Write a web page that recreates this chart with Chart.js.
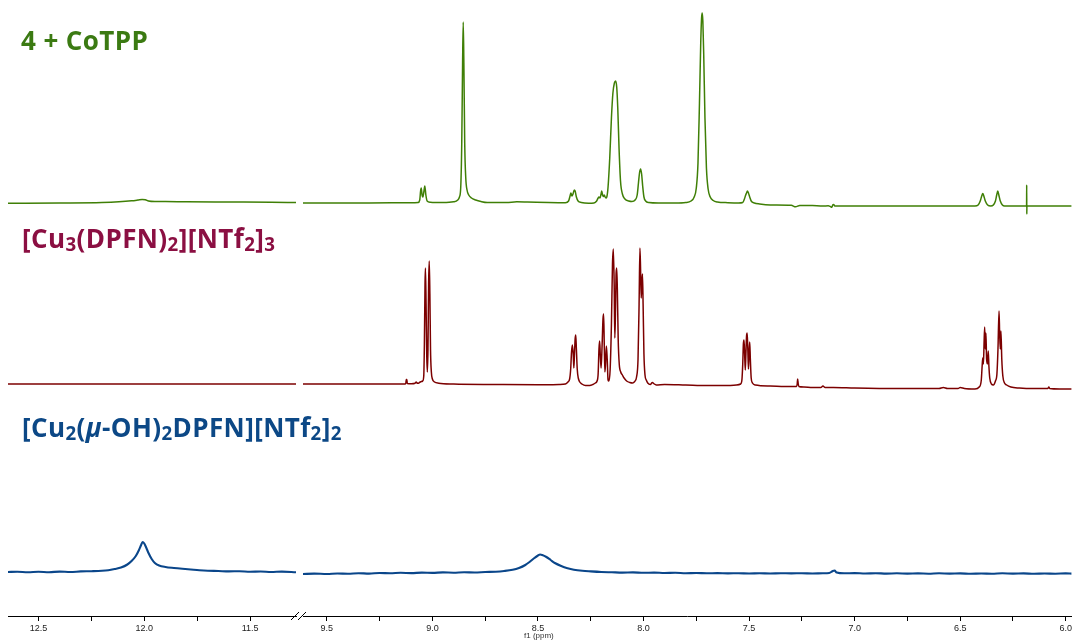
<!DOCTYPE html>
<html>
<head>
<meta charset="utf-8">
<script src="https://cdn.jsdelivr.net/npm/chart.js@4"></script>
<style>
  html, body { margin: 0; padding: 0; background: #fff; overflow: hidden; }
  #page { position: relative; width: 1074px; height: 642px; }
  .panel { position: absolute; top: 0; }
  .label {
    position: absolute; font-family: "Open Sans", sans-serif; font-weight: 700;
    font-size: 26px; line-height: 26px; letter-spacing: 0.4px; white-space: nowrap;
  }
  .label sub { font-size: 0.72em; vertical-align: -0.16em; line-height: 0; }
  #xtitle { position: absolute; left: 524px; top: 631px; font: 8px "Liberation Sans", Arial, sans-serif; color: #333; }
</style>
</head>
<body>
<div id="page">
  <div class="panel" style="left:0px"><canvas id="leftPanel" width="300" height="642"></canvas></div>
  <div class="panel" style="left:290px"><canvas id="rightPanel" width="784" height="642"></canvas></div>
  <div class="label" style="left:21px; top:27px; color:#3b7a12;">4 + CoTPP</div>
  <div class="label" style="left:22px; top:225px; color:#8b0f42;">[Cu<sub>3</sub>(DPFN)<sub>2</sub>][NTf<sub>2</sub>]<sub>3</sub></div>
  <div class="label" style="left:22px; top:414px; color:#0c4886;">[Cu<sub>2</sub>(<i>μ</i>-OH)<sub>2</sub>DPFN][NTf<sub>2</sub>]<sub>2</sub></div>
  <div id="xtitle">f1 (ppm)</div>
</div>
<script>
// --- DATA (ppm, intensity above each trace's baseline) ---
const leftMajor = [12.5, 12.0, 11.5];
const leftMinor = [12.25, 11.75];
const rightMajor = [9.5, 9.0, 8.5, 8.0, 7.5, 7.0, 6.5, 6.0];
const rightMinor = [9.25, 8.75, 8.25, 7.75, 7.25, 6.75, 6.25];

const cotppLeft = [[12.644,-0.3],[12.40,0],[12.20,0.5],[12.12,1.2],[12.06,2.2],[12.03,3],[12.01,3.6],[11.995,3.2],
  [11.98,2],[11.95,1.5],[11.90,1.5],[11.80,1.2],[11.60,1],[11.40,0.8],[11.283,0.5]];

const cotppRight = [[9.613,0],[9.30,0],[9.10,0.3],[9.068,0.5],[9.060,3],[9.056,12],[9.053,15],[9.049,8],[9.045,6],
  [9.040,12],[9.036,17],[9.031,8],[9.025,2],[9.01,0.8],[8.95,0.5],[8.90,1.2],[8.88,3],[8.872,6],[8.866,15],
  [8.861,60],[8.857,140],[8.854,181],[8.851,140],[8.847,60],[8.842,25],[8.836,13],[8.828,8],[8.815,5],[8.795,3],
  [8.77,1.5],[8.74,0.5],[8.65,0.5],[8.60,1.2],[8.55,1],[8.45,0.5],[8.37,0.3],[8.355,2],[8.348,7],[8.344,10],
  [8.339,7],[8.334,9],[8.328,13],[8.324,12],[8.318,6],[8.310,2],[8.295,0.5],[8.26,-0.3],[8.235,0],[8.222,2],
  [8.215,5],[8.211,6],[8.206,5],[8.201,9],[8.198,12],[8.194,8],[8.190,6.5],[8.186,8],[8.182,6],[8.178,5],
  [8.174,6],[8.168,16],[8.160,45],[8.152,85],[8.145,110],[8.138,120],[8.132,122],[8.127,116],[8.122,95],
  [8.116,55],[8.109,22],[8.100,9],[8.088,4],[8.07,2],[8.055,1.5],[8.040,3],[8.030,8],[8.024,20],[8.019,30],
  [8.014,34],[8.009,29],[8.004,17],[7.998,6],[7.99,2],[7.975,0.5],[7.93,0],[7.85,0],[7.80,0.5],[7.775,2],
  [7.760,6],[7.750,15],[7.742,40],[7.735,100],[7.729,160],[7.725,185],[7.722,190],[7.719,182],[7.715,150],
  [7.709,85],[7.702,35],[7.694,14],[7.684,6],[7.670,2.5],[7.650,1],[7.60,0.3],[7.55,0],[7.53,0.5],[7.522,4],
  [7.516,8],[7.512,10],[7.508,12],[7.503,10],[7.497,6],[7.490,2],[7.475,0],[7.45,-1],[7.40,-2],[7.30,-2.3],
  [7.28,-3.8],[7.26,-2.5],[7.20,-2.6],[7.15,-3],[7.125,-2.8],[7.115,-3.5],[7.108,-4.3],[7.103,-1.8],[7.099,-1.5],
  [7.094,-3],[7.08,-3],[6.90,-3],[6.70,-3],[6.50,-3],[6.43,-3],[6.415,-2],[6.405,2],[6.398,7],[6.393,9.5],
  [6.388,7],[6.381,2],[6.370,-2],[6.355,-3],[6.343,-2],[6.333,2],[6.327,8],[6.322,12],[6.317,8],[6.310,2],
  [6.300,-2],[6.29,-3],[6.20,-3],[6.1855,-3],[6.1850,18],[6.1845,-11],[6.1840,-3],[6.10,-3],[5.972,-3]];

const cu3Left = [[12.644,0],[12.0,0],[11.283,0]];

const cu3Right = [[9.613,0],[9.40,0],[9.20,0],[9.13,0],[9.126,0.5],[9.124,4.5],[9.121,4.5],[9.119,0.5],[9.10,0.3],
  [9.082,0.8],[9.077,2],[9.073,1],[9.066,0.8],[9.058,2],[9.052,2.5],[9.046,3],[9.041,8],[9.038,40],[9.035,100],
  [9.033,116],[9.030,80],[9.027,30],[9.024,12],[9.021,35],[9.018,100],[9.015,123],[9.012,90],[9.009,35],
  [9.005,12],[9.000,5],[8.99,2],[8.97,0.8],[8.90,0],[8.70,-0.5],[8.50,-0.8],[8.40,-0.5],[8.37,0],[8.358,2],
  [8.350,5],[8.345,15],[8.341,32],[8.337,39],[8.333,30],[8.330,16],[8.327,30],[8.324,45],[8.321,49],[8.318,35],
  [8.314,15],[8.309,6],[8.302,2],[8.292,0],[8.275,-1.5],[8.255,-1.5],[8.240,-0.5],[8.228,1],[8.220,3],[8.215,10],
  [8.211,35],[8.208,43],[8.205,30],[8.201,16],[8.196,40],[8.192,65],[8.189,70],[8.186,40],[8.183,12],[8.180,20],
  [8.176,38],[8.172,25],[8.168,4],[8.164,3],[8.158,15],[8.152,60],[8.147,120],[8.143,135],[8.139,100],[8.136,46],
  [8.133,70],[8.130,110],[8.127,116],[8.124,95],[8.120,45],[8.115,20],[8.108,12],[8.100,9],[8.092,6],[8.080,3],
  [8.065,1.5],[8.052,1],[8.042,2.5],[8.033,7],[8.026,25],[8.021,80],[8.017,136],[8.014,115],[8.011,86],
  [8.008,100],[8.005,110],[8.002,80],[7.998,30],[7.993,9],[7.987,4],[7.980,1],[7.968,-0.5],[7.958,1.5],
  [7.952,0.5],[7.940,-1],[7.90,-0.5],[7.80,-1],[7.70,-1.5],[7.60,-1.5],[7.56,-1],[7.540,0],[7.534,4],[7.530,20],
  [7.527,40],[7.524,44],[7.521,30],[7.518,14],[7.515,30],[7.512,48],[7.509,51],[7.506,35],[7.503,15],[7.500,30],
  [7.497,42],[7.494,25],[7.490,6],[7.484,1],[7.47,-1],[7.40,-2],[7.30,-2.5],[7.275,-2.5],[7.272,0],[7.270,5],
  [7.267,0],[7.264,-2.5],[7.24,-3],[7.20,-3.5],[7.16,-3.5],[7.15,-2],[7.14,-3.5],[7.10,-3.5],[7.00,-4],
  [6.80,-4.5],[6.60,-4.5],[6.58,-3.5],[6.56,-4.5],[6.51,-4.5],[6.50,-3.5],[6.48,-4.5],[6.43,-5],[6.41,-3],
  [6.400,4],[6.396,18],[6.393,26],[6.390,20],[6.387,40],[6.384,57],[6.381,35],[6.378,51],[6.375,25],[6.371,20],
  [6.367,33],[6.364,18],[6.360,6],[6.352,0],[6.343,-1],[6.333,3],[6.326,10],[6.321,35],[6.316,73],[6.313,50],
  [6.310,35],[6.307,53],[6.303,25],[6.298,8],[6.290,1],[6.280,-1],[6.26,-3],[6.22,-4],[6.15,-4.5],[6.085,-4.5],
  [6.080,-3],[6.076,-4.5],[6.03,-5],[5.972,-5]];

const cu2Left = [[12.644,0],[12.60,0.3],[12.55,-0.3],[12.50,0.2],[12.45,-0.2],[12.40,0.4],[12.35,0],[12.30,0.6],
  [12.25,0.8],[12.20,1.2],[12.17,1.8],[12.14,3],[12.11,4.5],[12.08,7.5],[12.06,11],[12.04,16],[12.025,22],
  [12.015,27],[12.008,30],[12.0,28.5],[11.99,24],[11.98,19],[11.965,13],[11.95,9],[11.93,6.5],[11.90,5],
  [11.86,4],[11.82,3.2],[11.78,2.5],[11.74,1.8],[11.70,1.3],[11.65,1.0],[11.60,0.6],[11.55,0.8],[11.50,0.3],
  [11.45,0.5],[11.40,0],[11.35,0.4],[11.283,-0.2]];

const cu2Right = [[9.613,-2],[9.56,-1.6],[9.50,-2],[9.45,-1.5],[9.40,-1.8],[9.35,-1.2],[9.30,-1.6],[9.25,-1.0],
  [9.20,-1.3],[9.15,-0.8],[9.10,-1.1],[9.05,-0.6],[9.00,-0.9],[8.95,-0.4],[8.90,-0.7],[8.85,-0.3],[8.80,-0.5],
  [8.75,0],[8.70,0.3],[8.66,1],[8.62,2.2],[8.59,4],[8.56,7],[8.54,10],[8.52,13.5],[8.50,16.5],[8.49,17.5],
  [8.48,17],[8.46,15],[8.44,12],[8.42,9],[8.39,6],[8.36,3.8],[8.33,2.3],[8.29,1.2],[8.25,0.6],[8.20,0],
  [8.15,-0.3],[8.10,-0.6],[8.05,-0.4],[8.00,-0.8],[7.95,-0.6],[7.90,-1],[7.85,-0.8],[7.80,-1.2],[7.75,-1],
  [7.70,-1.3],[7.65,-1.1],[7.60,-1.4],[7.55,-1.2],[7.50,-1.5],[7.45,-1.3],[7.40,-1.5],[7.35,-1.2],[7.30,-1.4],
  [7.25,-1.2],[7.20,-1.5],[7.15,-1.2],[7.12,-1],[7.105,0.8],[7.095,1.5],[7.085,-0.5],[7.05,-1.3],[7.00,-1.1],
  [6.95,-1.5],[6.90,-1.2],[6.85,-1.6],[6.80,-1.3],[6.75,-1.6],[6.70,-1.4],[6.65,-1.7],[6.60,-1.3],[6.55,-1.6],
  [6.50,-1.4],[6.45,-1.8],[6.40,-1.5],[6.35,-1.7],[6.30,-1.3],[6.25,-1.6],[6.20,-1.4],[6.15,-1.8],[6.10,-1.5],
  [6.05,-1.7],[6.00,-1.4],[5.972,-1.6]];

// --- STYLE: vertical placement of each trace (axis units = px above x axis) ---
const traces = [
  { left: cotppLeft, right: cotppRight, offset: 413, color: '#3f7f06', width: 1.5 },
  { left: cu3Left,   right: cu3Right,   offset: 232, color: '#7c0000', width: 1.5 },
  { left: cu2Left,   right: cu2Right,   offset: 44,  color: '#0a468a', width: 2.1 }
];

function buildDatasets(side) {
  return traces.map(t => ({
    data: t[side].map(p => ({ x: p[0], y: p[1] + t.offset })),
    borderColor: t.color,
    borderWidth: t.width,
    pointRadius: 0,
    fill: false,
    cubicInterpolationMode: 'monotone'
  }));
}

function makeOptions(min, max, major, minor, padding) {
  const all = major.concat(minor).sort((a, b) => b - a);
  return {
    responsive: false,
    animation: false,
    devicePixelRatio: 1,
    layout: { padding: padding },
    plugins: { legend: { display: false }, tooltip: { enabled: false } },
    scales: {
      x: {
        type: 'linear', reverse: true, min: min, max: max,
        afterBuildTicks: axis => { axis.ticks = all.map(v => ({ value: v })); },
        afterFit: axis => { axis.height = 26; },
        grid: { display: true, drawOnChartArea: false, drawTicks: true, tickLength: 5, color: '#000' },
        border: { display: true, color: '#000', width: 1 },
        ticks: {
          autoSkip: false, maxRotation: 0, includeBounds: false, padding: 2, color: '#222',
          font: { family: 'Liberation Sans', size: 9 },
          callback: v => major.includes(v) ? v.toFixed(1) : ''
        }
      },
      y: { display: false, min: 0, max: 616 }
    }
  };
}

// break marks on the axis between the two panels
const axisBreak = {
  id: 'axisBreak',
  afterDraw(chart) {
    const ctx = chart.ctx;
    ctx.save();
    ctx.strokeStyle = '#000';
    ctx.lineWidth = 1;
    ctx.beginPath();
    ctx.moveTo(1, 620); ctx.lineTo(9, 612);
    ctx.moveTo(8, 620); ctx.lineTo(16, 612);
    ctx.stroke();
    ctx.restore();
  }
};

document.addEventListener('DOMContentLoaded', function() {
  new Chart(document.getElementById('leftPanel'), {
    type: 'line',
    data: { datasets: buildDatasets('left') },
    options: makeOptions(11.283, 12.644, leftMajor, leftMinor, { left: 8, right: 4, top: 0, bottom: 0 })
  });
  new Chart(document.getElementById('rightPanel'), {
    type: 'line',
    data: { datasets: buildDatasets('right') },
    options: makeOptions(5.972, 9.613, rightMajor, rightMinor, { left: 13, right: 0, top: 0, bottom: 0 }),
    plugins: [axisBreak]
  });
});
</script>
</body>
</html>
